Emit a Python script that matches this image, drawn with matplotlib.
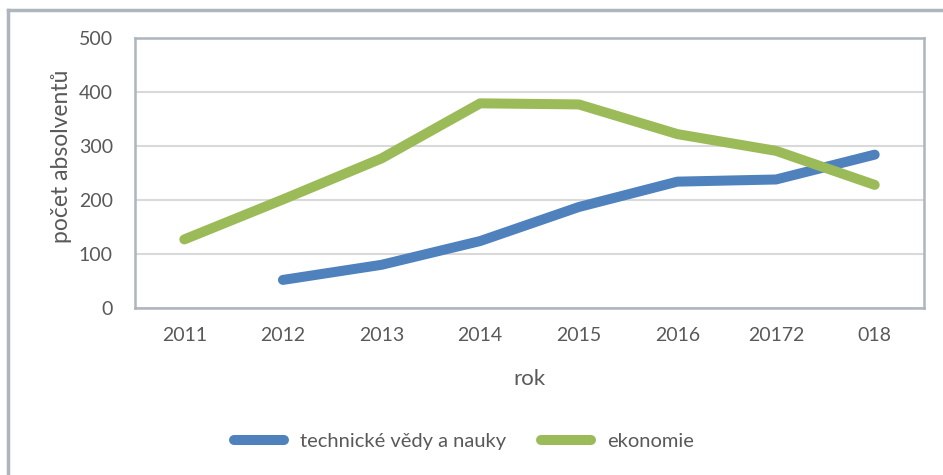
import matplotlib.pyplot as plt
from matplotlib.lines import Line2D
import numpy as np

# data
roky = ['2011', '2012', '2013', '2014', '2015', '2016', '20172', '018']
technicke = [np.nan, 52, 80, 124, 187, 234, 238, 284]
ekonomie = [127, 201, 277, 379, 377, 322, 291, 228]

modra = '#4F81BD'
zelena = '#9BBB59'
seda_text = '#595959'

plt.rcParams['font.family'] = ['Lato', 'DejaVu Sans']

fig = plt.figure(figsize=(9.43, 4.75), dpi=100)
W, H = 943, 475
ax = fig.add_axes([135 / W, 1 - 308 / H, (924 - 135) / W, (308 - 38) / H])

x = np.arange(len(roky))
ax.plot(x, technicke, color=modra, lw=7.2, solid_capstyle='round',
        solid_joinstyle='round', label='technické vědy a nauky', zorder=3)
ax.plot(x, ekonomie, color=zelena, lw=7.2, solid_capstyle='round',
        solid_joinstyle='round', label='ekonomie', zorder=3)

ax.set_xlim(-0.5, len(roky) - 0.5)
ax.set_ylim(0, 500)
ax.set_yticks(range(0, 501, 100))
ax.set_xticks(x)
ax.set_xticklabels(roky)
ax.tick_params(length=0, labelsize=14, colors=seda_text)
ax.tick_params(axis='x', pad=14)
ax.tick_params(axis='y', pad=16)
ax.grid(axis='y', color='#D9D9D9', lw=1.5, zorder=0)
for s in ax.spines.values():
    s.set_color('#ADB5BD')
    s.set_linewidth(1.8)

ax.set_xlabel('rok', fontsize=16, color=seda_text, labelpad=18)
ax.set_ylabel('počet absolventů', fontsize=16.5, color=seda_text)
ax.yaxis.set_label_coords((72 - 135) / (924 - 135), 0.56)

leg = fig.legend(loc='center', bbox_to_anchor=(464 / W, 1 - 441 / H), ncol=2,
                 frameon=False, fontsize=14.5, handlelength=2.5, columnspacing=1.7,
                 handletextpad=0.8)
for t in leg.get_texts():
    t.set_color(seda_text)

# outer chart frame (top and left edges visible)
fig.add_artist(Line2D([8 / W, 1], [1 - 10 / H, 1 - 10 / H], color='#ADB5BD', lw=2.5,
                      transform=fig.transFigure))
fig.add_artist(Line2D([8 / W, 8 / W], [1 - 10 / H, 0], color='#ADB5BD', lw=2.5,
                      transform=fig.transFigure))

fig.savefig('out.png', dpi=100)
